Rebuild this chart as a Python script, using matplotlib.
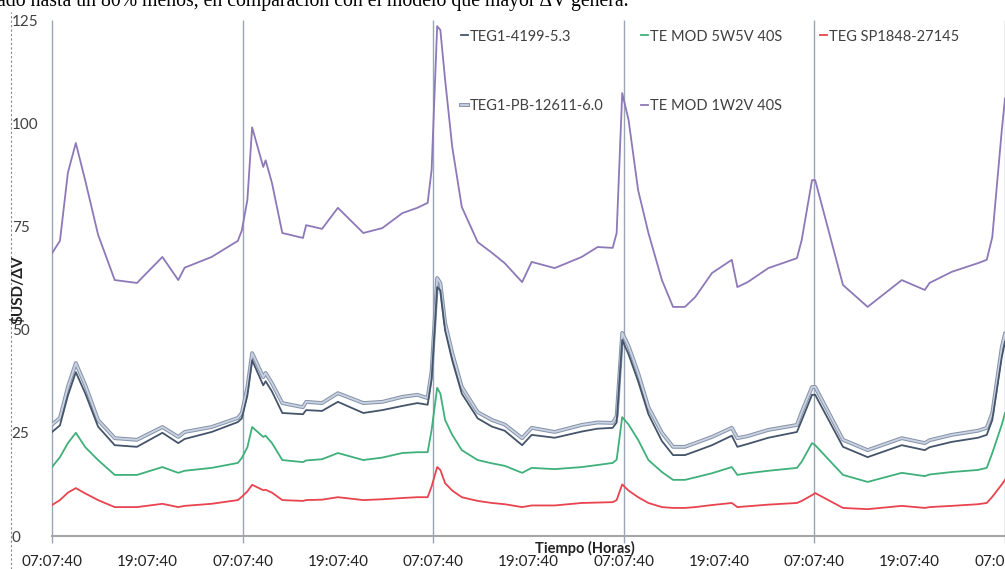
import matplotlib

matplotlib.use("Agg")
import matplotlib.pyplot as plt  # noqa: E402
import matplotlib.patheffects as pe  # noqa: E402

# hours since the first 07:07:40 reading
hours = [
    0, 1.0, 2.0, 3.0, 4.2, 5.8, 7.9, 10.7, 13.9, 15.9, 16.7, 20.1, 23.4, 23.9,
    24.6, 25.2, 26.6, 26.9, 27.7, 29.0, 31.6, 32.0, 34.0, 36.0, 39.2, 41.6, 44.1, 46.0, 47.3, 47.8,
    48.5, 48.9, 49.5, 50.4, 51.6, 53.6, 55.4, 57.0, 59.2, 60.4, 63.3, 66.7, 68.7, 70.6, 71.1,
    71.8, 72.6, 73.8, 75.1, 76.8, 78.2, 79.7, 81.0, 83.1, 85.6, 86.3, 87.6, 90.2, 93.8, 94.4, 95.7,
    96.1, 99.6, 102.7, 107.0, 109.9, 110.5, 113.3, 116.6, 117.7, 118.4, 119.6, 120,
]

teg1_4199 = [
    25.2, 26.8, 34, 39.7, 34.5, 26.5, 22, 21.6, 25, 22.5, 23.5, 25.2, 27.6, 28.5,
    34, 42.6, 36.5, 37.5, 35, 29.8, 29.5, 30.5, 30.3, 32.5, 29.8, 30.5, 31.5, 32.2, 31.8, 38,
    60.3, 59.5, 49.8, 42.5, 34.5, 28.5, 26.5, 25.5, 22, 24.5, 23.8, 25.3, 26, 26.2, 27.5,
    47.5, 44, 37.5, 29.5, 23, 19.6, 19.6, 20.5, 22, 24.3, 21.6, 22.3, 23.8, 25.2, 28, 34.2,
    34.2, 21.6, 19.1, 22, 20.8, 21.5, 22.8, 23.8, 24.5, 28.1, 43.4, 47,
]

te_5w5v = [
    16.7, 19.1, 22.5, 25, 21.5, 18.4, 14.8, 14.8, 16.7, 15.3, 15.8, 16.5, 17.7, 18.9,
    21.5, 26.4, 24, 24.3, 22.5, 18.4, 17.9, 18.3, 18.6, 20.1, 18.4, 19, 20.1, 20.3, 20.3, 25.7,
    35.9, 34.5, 28.1, 24.5, 20.8, 18.4, 17.6, 17, 15.3, 16.5, 16.2, 16.7, 17.2, 17.7, 18.5,
    28.8, 27, 23.3, 18.4, 15.5, 13.6, 13.6, 14.2, 15.2, 16.7, 14.8, 15.2, 15.8, 16.5, 18, 22.5,
    22, 14.8, 13.1, 15.3, 14.5, 14.9, 15.5, 16, 16.5, 20.1, 27, 29.8,
]

teg_sp1848 = [
    7.5, 8.7, 10.5, 11.6, 10.3, 8.7, 7, 7, 7.8, 7, 7.3, 7.8, 8.7, 9.5,
    10.8, 12.4, 11.1, 11.2, 10.5, 8.7, 8.5, 8.7, 8.8, 9.4, 8.7, 8.9, 9.2, 9.4, 9.4, 12,
    16.7, 16, 12.8, 11, 9.4, 8.5, 8, 7.7, 7, 7.4, 7.4, 8, 8.1, 8.2, 8.7,
    12.5, 11, 9.4, 8, 7, 6.8, 6.8, 7, 7.5, 8, 7, 7.2, 7.6, 8, 8.5, 9.9,
    10.4, 6.8, 6.5, 7.3, 6.8, 7, 7.3, 7.7, 8, 9.5, 12.5, 13.6,
]

teg1_pb = [
    27.0, 28.6, 36.1, 41.9, 36.5, 28.1, 23.7, 23.3, 26.4, 24, 25.2, 26.4, 28.6, 29.8,
    36, 44.3, 38.5, 39.5, 37, 32.2, 31.2, 32.5, 32.2, 34.6, 32.2, 32.5, 33.7, 34.2, 33.4, 40,
    62.5, 61.3, 51.6, 44.3, 36.1, 30, 28.1, 27, 23.7, 26.2, 25.2, 26.9, 27.5, 27.4, 29,
    49.2, 46, 39.5, 31.2, 25, 21.6, 21.6, 22.5, 24, 26.2, 23.7, 24.2, 25.7, 26.9, 30, 36.1,
    36.1, 23.3, 20.8, 23.7, 22.5, 23.2, 24.5, 25.5, 26.2, 29.8, 45.8, 49,
]

te_1w2v = [
    68.5, 71.5, 88, 95.2, 86, 73, 62, 61.3, 67.6, 62, 65, 67.6, 71.5, 74,
    81.4, 99, 89.4, 91, 85.5, 73.4, 72.2, 75.3, 74.4, 79.5, 73.4, 74.6, 78.2, 79.5, 80.7, 88.7,
    123.5, 122.6, 110.5, 94.2, 79.7, 71.2, 68.6, 66.1, 61.5, 66.4, 64.9, 67.6, 70, 69.8, 73.4,
    107.3, 100.8, 83.8, 73.4, 62, 55.5, 55.5, 57.9, 63.7, 66.9, 60.3, 61.5, 64.9, 67.3, 71.7, 86.2,
    86.2, 60.8, 55.5, 62, 59.6, 61.3, 64, 66.1, 66.9, 72.4, 98.4, 106,
]

tick_hours = list(range(0, 121, 12))
tick_labels = ["07:07:40", "19:07:40"] * 5 + ["07:07:40"]
day_lines = list(range(0, 121, 24))

INK = "#404040"

fig = plt.figure(figsize=(10.05, 5.69), dpi=100)
ax = fig.add_axes([52 / 1005, 1 - 536 / 569, 953 / 1005, 516 / 569])

ax.vlines(day_lines, -1.6, 125, color="#9aa5b5", linewidth=1.0, clip_on=False, zorder=1)

ax.plot(hours, teg1_4199, color="#44546a", lw=1.3, label="TEG1-4199-5.3", zorder=4)
ax.plot(hours, teg1_pb, color="#c9d3e2", lw=1.3, label="TEG1-PB-12611-6.0", zorder=3,
        path_effects=[pe.Stroke(linewidth=2.8, foreground="#8894aa"), pe.Normal()])
ax.plot(hours, te_5w5v, color="#3fb07a", lw=1.3, label="TE MOD 5W5V 40S", zorder=3)
ax.plot(hours, te_1w2v, color="#8d78b8", lw=1.3, label="TE MOD 1W2V 40S", zorder=3)
ax.plot(hours, teg_sp1848, color="#e8434f", lw=1.3, label="TEG SP1848-27145", zorder=3)

ax.set_xlim(0, 120)
ax.set_ylim(0, 125)
ax.set_xticks(tick_hours)
ax.set_xticklabels(tick_labels)
ax.set_yticks([0, 25, 50, 75, 100, 125])
ax.tick_params(axis="x", length=0, pad=14, labelsize=11, labelcolor="#222222")
ax.tick_params(axis="y", length=0, pad=29, labelsize=11, labelcolor=INK)
for lab in ax.get_yticklabels():
    lab.set_horizontalalignment("left")
    lab.set_fontfamily("Lato")
for lab in ax.get_xticklabels():
    lab.set_fontfamily("Lato")

for spine in ("top", "right", "left"):
    ax.spines[spine].set_visible(False)
ax.spines["bottom"].set_color("#a6a6a6")
ax.spines["bottom"].set_linewidth(1.5)

handles, labels = ax.get_legend_handles_labels()
leg = ax.legend(
    handles, labels,
    ncol=3, frameon=False, loc="upper left", bbox_to_anchor=(0.4165, 1.004),
    handlelength=0.5, handletextpad=0.1, columnspacing=2.6, labelspacing=3.8,
    borderaxespad=0.4, prop={"family": "Lato", "size": 10.5},
)
for t in leg.get_texts():
    t.set_color(INK)

fig.text(18 / 1005, 1 - 290 / 569, "$USD/ΔV", rotation=90, ha="center", va="center",
         fontsize=11, fontweight="bold", family="Lato", color="#222222")
fig.text(585 / 1005, 1 - 548 / 569, "Tiempo (Horas)", ha="center", va="center",
         fontsize=10.5, fontweight="bold", family="Lato", color="#222222")
# sentence from the page above the chart, cut off by the crop
fig.text(-3 / 1005, 1 - 6 / 569,
         "ado hasta un 80% menos, en comparación con el modelo que mayor ΔV genera.",
         ha="left", va="baseline", fontsize=14.2, family="Liberation Serif", color="black")
fig.add_artist(plt.Line2D([11 / 1005, 11 / 1005], [0, 1 - 12 / 569], color="#888888",
                          lw=0.8, linestyle=(0, (2, 2))))

fig.savefig("out.png", dpi=100)
